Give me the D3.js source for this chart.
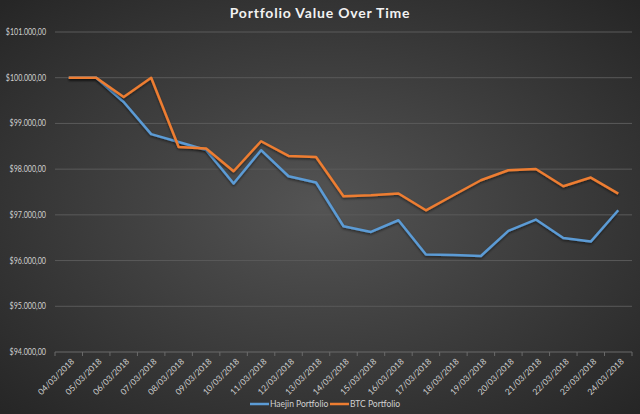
<!DOCTYPE html>
<html><head><meta charset="utf-8">
<script src="https://cdn.jsdelivr.net/npm/d3@7"></script>
<style>html,body{margin:0;padding:0;background:#3a3a3a;}svg{display:block;}</style>
</head><body>
<svg id="chart" width="640" height="414"></svg>
<script>
const dates = ["04/03/2018","05/03/2018","06/03/2018","07/03/2018","08/03/2018","09/03/2018","10/03/2018","11/03/2018","12/03/2018","13/03/2018","14/03/2018","15/03/2018","16/03/2018","17/03/2018","18/03/2018","19/03/2018","20/03/2018","21/03/2018","22/03/2018","23/03/2018","24/03/2018"];
const haejin = [100000,100000,99470,98765,98595,98420,97685,98414,97845,97707,96750,96626,96882,96131,96123,96101,96648,96897,96495,96416,97100];
const btc = [100000,100000,99580,100000,98486,98450,97954,98610,98289,98267,97407,97429,97466,97100,97429,97757,97976,98004,97626,97816,97466];
const yTicks = [94000,95000,96000,97000,98000,99000,100000,101000];
const seriesNames = ["Haejin Portfolio","BTC Portfolio"];
const colors = ["#5b9bd5","#ed7d31"];

const svg = d3.select("#chart");
const W = 640, H = 414;
const FONT = "Lato, 'Open Sans', sans-serif";
const defs = svg.append("defs");
const rg = defs.append("radialGradient").attr("id","bg").attr("cx","50%").attr("cy","50%").attr("r","70%");
rg.append("stop").attr("offset","0%").attr("stop-color","#545454");
rg.append("stop").attr("offset","100%").attr("stop-color","#262626");
const f = defs.append("filter").attr("id","sh").attr("x","-5%").attr("y","-5%").attr("width","110%").attr("height","120%");
f.append("feDropShadow").attr("dx",0).attr("dy",1.5).attr("stdDeviation",1).attr("flood-color","#000").attr("flood-opacity",0.5);
svg.append("rect").attr("width",W).attr("height",H).attr("fill","url(#bg)");

const m = {left:55, right:8};
const x = d3.scaleBand().domain(dates).range([m.left, W - m.right]);
const y = d3.scaleLinear().domain([94000,101000]).range([352, 32]);

const fmt = v => "$" + d3.format(",.2f")(v).replace(/,/g,"#").replace(/\./g,",").replace(/#/g,".");

svg.append("g").selectAll("line").data(yTicks.filter(t=>t>94000)).join("line")
  .attr("x1",m.left).attr("x2",W-m.right)
  .attr("y1",d=>y(d)).attr("y2",d=>y(d))
  .attr("stroke","#5a5a5a").attr("stroke-width",1);

svg.append("g").selectAll("text").data(yTicks).join("text")
  .attr("x",46).attr("y",d=>y(d)).attr("dy","0.35em")
  .attr("text-anchor","end").attr("fill","#d0d0d0")
  .attr("font-family",FONT).attr("font-size",8.5)
  .attr("textLength",d=>fmt(d).length*3.65).attr("lengthAdjust","spacingAndGlyphs")
  .text(fmt);

const xAxisG = svg.append("g").attr("transform",`translate(0,${y(94000)})`);
xAxisG.append("line").attr("x1",m.left).attr("x2",W-m.right).attr("stroke","#6a6a6a");
const bounds = dates.map(d=>x(d)).concat([x(dates[dates.length-1])+x.bandwidth()]);
xAxisG.selectAll("line.tk").data(bounds).join("line").attr("class","tk")
  .attr("x1",d=>d).attr("x2",d=>d).attr("y1",0).attr("y2",4).attr("stroke","#6a6a6a");
xAxisG.selectAll("text").data(dates).join("text")
  .attr("transform",d=>`translate(${x(d)+x.bandwidth()/2+4},${8}) rotate(-45)`)
  .attr("text-anchor","end").attr("dy","0.35em")
  .attr("fill","#d0d0d0").attr("font-family",FONT).attr("font-size",8.5)
  .text(d=>d);

const line = d3.line().x((d,i)=>x(dates[i])+x.bandwidth()/2).y(d=>y(d));
[haejin, btc].forEach((s,k)=>{
  svg.append("path").datum(s).attr("d",line).attr("fill","none")
    .attr("stroke",colors[k]).attr("stroke-width",2.5).attr("stroke-linejoin","round")
    .attr("filter","url(#sh)");
});

svg.append("text").attr("x",W/2).attr("y",18).attr("text-anchor","middle")
  .attr("fill","#f2f2f2").attr("font-family",FONT).attr("font-weight","bold")
  .attr("font-size",14).attr("letter-spacing",0.8).text("Portfolio Value Over Time");

const lg = svg.append("g");
const legX = [250, 330];
seriesNames.forEach((n,k)=>{
  lg.append("line").attr("x1",legX[k]).attr("x2",legX[k]+19).attr("y1",404).attr("y2",404)
    .attr("stroke",colors[k]).attr("stroke-width",2.5);
  lg.append("text").attr("x",legX[k]+20).attr("y",404).attr("dy","0.35em")
    .attr("fill","#d0d0d0").attr("font-family",FONT).attr("font-size",8.5).text(n);
});
</script>
</body></html>
